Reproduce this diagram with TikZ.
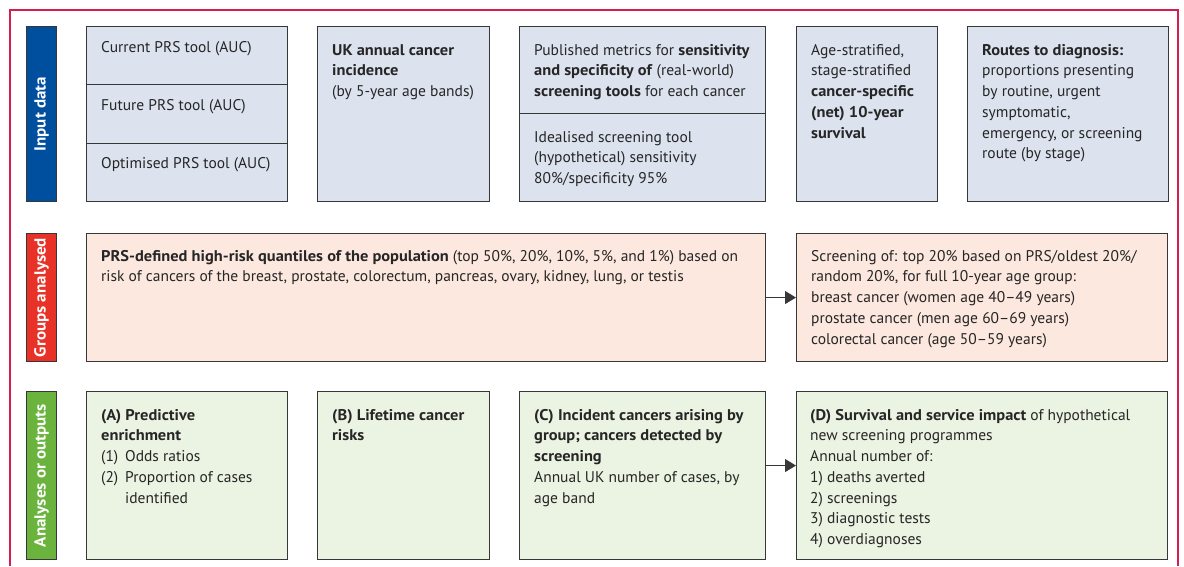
\documentclass[tikz,border=0pt]{standalone}
\usepackage{fontspec}
\setmainfont{PT Sans}[BoldFeatures={FakeStretch=1.06}]
\usetikzlibrary{positioning,calc,arrows.meta}

\definecolor{barblue}{RGB}{0,79,159}
\definecolor{barred}{RGB}{232,50,40}
\definecolor{bargreen}{RGB}{106,180,62}
\definecolor{inblue}{RGB}{220,226,238}
\definecolor{grppeach}{RGB}{252,232,222}
\definecolor{outgreen}{RGB}{235,243,226}
\definecolor{boxline}{RGB}{55,55,55}
\definecolor{framered}{RGB}{212,30,80}

\begin{document}
\begin{tikzpicture}[x=1pt,y=-1pt,
  box/.style={draw=boxline,line width=1.1pt,anchor=north west,inner sep=0pt},
  bartxt/.style={rotate=90,text=white,inner sep=0pt,font=\fontsize{16}{18}\selectfont\bfseries},
  txt/.style={align=left,inner sep=0pt,text=black!85,font=\fontsize{15.5}{20.7}\selectfont},
  link/.style={draw=boxline,line width=1.1pt,-{Triangle[length=11pt,width=13pt]}}]

\useasboundingbox (0,0) rectangle (1184,566);

% outer frame, open at the bottom
\draw[framered,line width=1.2pt] (10,566) -- (10,10) -- (1178,10) -- (1178,566);

% row labels
\foreach \n/\y/\h/\c/\t in {inbar/26/175/barblue/Input data,
grpbar/233/128/barred/Groups analysed,outbar/391/168/bargreen/Analyses or outputs}{
	\node[box,fill=\c,minimum width=30pt,minimum height=\h pt] (\n) at (26,\y) {};
	\node[bartxt] (\n-t) at (\n.center) {\t};
}

% input data
\foreach \n/\y in {cur/26,fut/84.33,opt/142.67}
	\node[box,fill=inblue,minimum width=201pt,minimum height=58.33pt] (\n) at (86,\y) {};
\node[box,fill=inblue,minimum width=172pt,minimum height=175pt] (uk) at (317,26) {};
\node[box,fill=inblue,minimum width=246pt,minimum height=87pt] (pub) at (519,26) {};
\node[box,fill=inblue,minimum width=246pt,minimum height=88pt] (ideal) at (519,113) {};
\node[box,fill=inblue,minimum width=141pt,minimum height=175pt] (surv) at (796,26) {};
\node[box,fill=inblue,minimum width=201pt,minimum height=175pt] (routes) at (967,26) {};

\node[txt,below right=15pt and 15pt of cur.north west] (cur-t) {Current PRS tool (AUC)};
\node[txt,below right=15pt and 15pt of fut.north west] (fut-t) {Future PRS tool (AUC)};
\node[txt,below right=15pt and 15pt of opt.north west] (opt-t) {Optimised PRS tool (AUC)};
\node[txt,below right=18pt and 15pt of uk.north west] (uk-t) {\textbf{UK annual cancer}\\\textbf{incidence}\\(by 5-year age bands)};
\node[txt,below right=18pt and 15pt of pub.north west] (pub-t) {Published metrics for \textbf{sensitivity}\\\textbf{and specificity of} (real-world)\\\textbf{screening tools} for each cancer};
\node[txt,below right=18pt and 15pt of ideal.north west] (ideal-t) {Idealised screening tool\\(hypothetical) sensitivity\\80\%/specificity 95\%};
\node[txt,below right=18pt and 15pt of surv.north west] (surv-t) {Age-stratified,\\stage-stratified\\\textbf{cancer-specific}\\\textbf{(net) 10-year}\\\textbf{survival}};
\node[txt,below right=18pt and 15pt of routes.north west] (routes-t) {\textbf{Routes to diagnosis:}\\proportions presenting\\by routine, urgent\\symptomatic,\\emergency, or screening\\route (by stage)};

% groups analysed
\node[box,fill=grppeach,minimum width=679pt,minimum height=128pt] (quant) at (86,233) {};
\node[box,fill=grppeach,minimum width=371pt,minimum height=128pt] (screen) at (796,233) {};

\node[txt,below right=17pt and 15pt of quant.north west] (quant-t) {\textbf{PRS-defined high-risk quantiles of the population} (top 50\%, 20\%, 10\%, 5\%, and 1\%) based on\\risk of cancers of the breast, prostate, colorectum, pancreas, ovary, kidney, lung, or testis};
\node[txt,below right=17pt and 15pt of screen.north west] (screen-t) {Screening of: top 20\% based on PRS/oldest 20\%/\\random 20\%, for full 10-year age group:\\breast cancer (women age 40--49 years)\\prostate cancer (men age 60--69 years)\\colorectal cancer (age 50--59 years)};

\draw[link] (quant.east) -- (screen.west);

% analyses or outputs
\node[box,fill=outgreen,minimum width=201pt,minimum height=168pt] (enrich) at (86,391) {};
\node[box,fill=outgreen,minimum width=172pt,minimum height=168pt] (life) at (317,391) {};
\node[box,fill=outgreen,minimum width=246pt,minimum height=168pt] (incid) at (519,391) {};
\node[box,fill=outgreen,minimum width=371pt,minimum height=168pt] (impact) at (796,391) {};

\node[txt,below right=18pt and 15pt of enrich.north west] (enrich-t) {\textbf{(A) Predictive}\\\textbf{enrichment}\\\makebox[24pt][l]{(1)}Odds ratios\\\makebox[24pt][l]{(2)}Proportion of cases\\\hspace*{24pt}identified};
\node[txt,below right=18pt and 15pt of life.north west] (life-t) {\textbf{(B) Lifetime cancer}\\\textbf{risks}};
\node[txt,below right=18pt and 15pt of incid.north west] (incid-t) {\textbf{(C) Incident cancers arising by}\\\textbf{group; cancers detected by}\\\textbf{screening}\\Annual UK number of cases, by\\age band};
\node[txt,below right=18pt and 14pt of impact.north west] (impact-t) {\textbf{(D) Survival and service impact} of hypothetical\\new screening programmes\\Annual number of:\\1) deaths averted\\2) screenings\\3) diagnostic tests\\4) overdiagnoses};

\draw[link] ([yshift=10pt]incid.east) -- ([yshift=10pt]impact.west);

\end{tikzpicture}
\end{document}
